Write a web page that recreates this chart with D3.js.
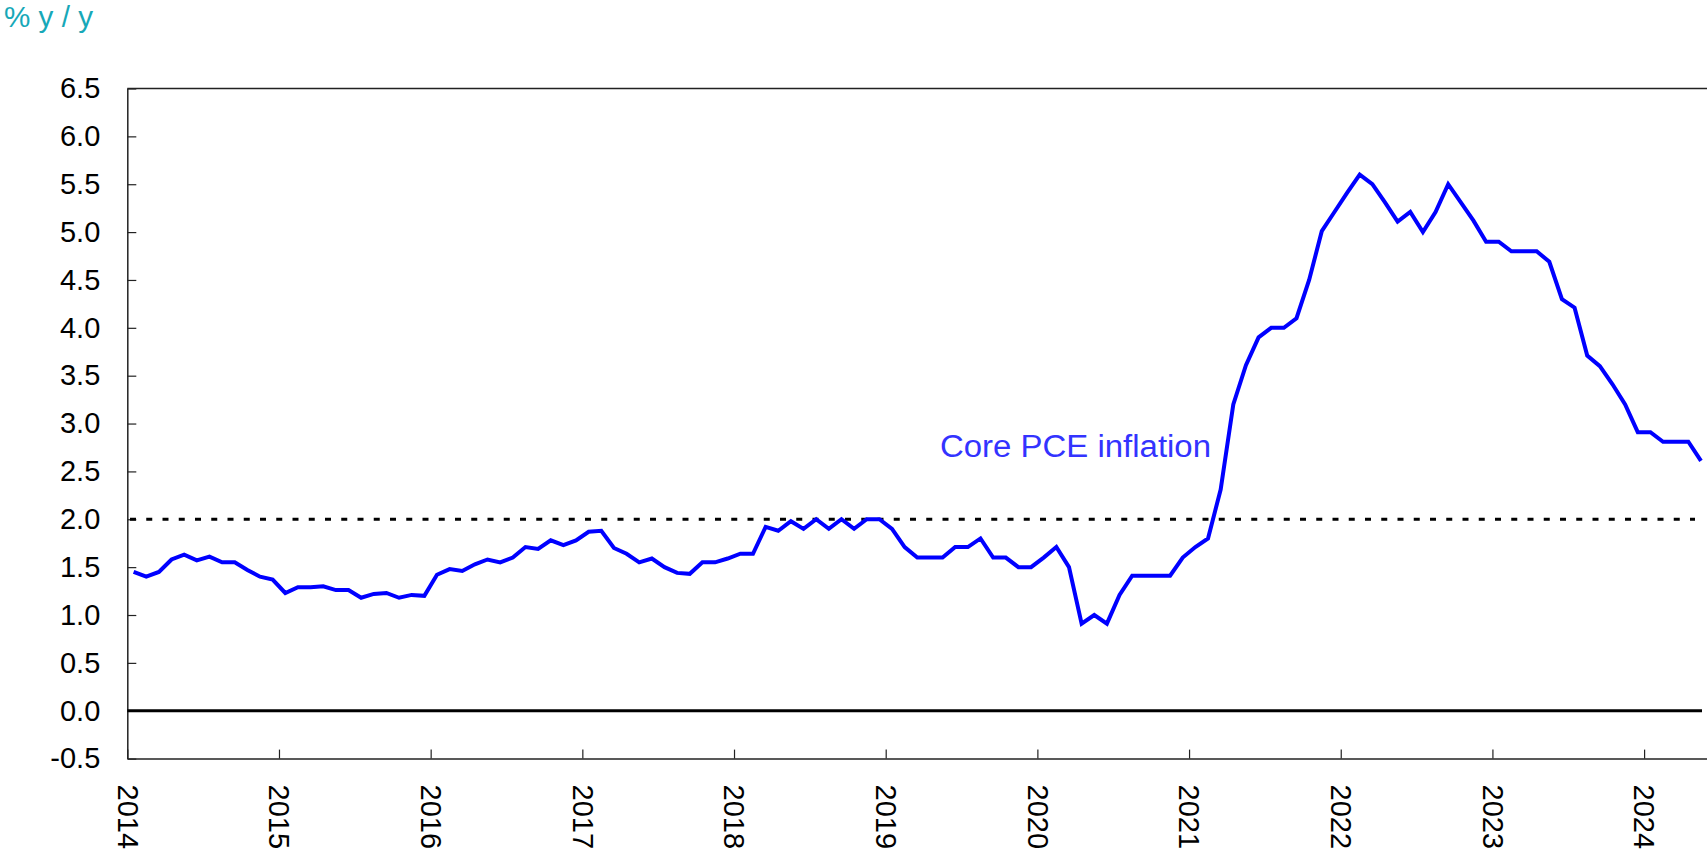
<!DOCTYPE html>
<html>
<head>
<meta charset="utf-8">
<script src="https://cdn.jsdelivr.net/npm/d3@7"></script>
<style>
  html, body { margin: 0; padding: 0; background: #fff; }
  svg { display: block; }
  text { font-family: "Liberation Sans", Arial, Helvetica, sans-serif; }
</style>
</head>
<body>
<div id="chart"></div>
<script>
// Monthly core PCE inflation, % y/y, Jan 2014 – May 2024
const years = ["2014", "2015", "2016", "2017", "2018", "2019", "2020", "2021", "2022", "2023", "2024"];
const months = years.flatMap(y => d3.range(1, 13).map(m => `${y}-${String(m).padStart(2, "0")}`)).slice(0, 125);

const corePce = [
  1.45, 1.40, 1.45, 1.58, 1.63, 1.57, 1.61, 1.55, 1.55, 1.47, 1.40, 1.37,
  1.23, 1.29, 1.29, 1.30, 1.26, 1.26, 1.18, 1.22, 1.23, 1.18, 1.21, 1.20,
  1.42, 1.48, 1.46, 1.53, 1.58, 1.55, 1.60, 1.71, 1.69, 1.78, 1.73, 1.78,
  1.87, 1.88, 1.70, 1.64, 1.55, 1.59, 1.50, 1.44, 1.43, 1.55, 1.55, 1.59,
  1.64, 1.64, 1.92, 1.88, 1.98, 1.90, 2.00, 1.90, 2.00, 1.90, 2.00, 2.00,
  1.90, 1.71, 1.60, 1.60, 1.60, 1.71, 1.71, 1.80, 1.60, 1.60, 1.50, 1.50,
  1.60, 1.71, 1.50, 0.91, 1.00, 0.91, 1.21, 1.41, 1.41, 1.41, 1.41, 1.60,
  1.71, 1.80, 2.31, 3.20, 3.61, 3.90, 4.00, 4.00, 4.10, 4.50, 5.01, 5.21,
  5.41, 5.60, 5.50, 5.31, 5.11, 5.21, 5.00, 5.21, 5.50, 5.31, 5.12, 4.90,
  4.90, 4.80, 4.80, 4.80, 4.69, 4.30, 4.21, 3.71, 3.60, 3.41, 3.20, 2.91,
  2.91, 2.81, 2.81, 2.81, 2.61
];

const yTicks = [-0.5, 0.0, 0.5, 1.0, 1.5, 2.0, 2.5, 3.0, 3.5, 4.0, 4.5, 5.0, 5.5, 6.0, 6.5];
const targetRate = 2.0;
const unitLabel = "% y / y";
const seriesLabel = "Core PCE inflation";

const W = 1707, H = 852;
const plotLeft = 127.3, plotRight = 1707.3, plotTop = 88.5, plotBottom = 758.6;

const svg = d3.select("#chart").append("svg")
  .attr("width", W).attr("height", H);

// Month index axis: each month occupies one slot; year ticks sit at slot boundaries
const x = d3.scaleLinear().domain([0, months.length]).range([plotLeft, plotRight]);
const y = d3.scaleLinear().domain([-0.5, 6.5]).range([plotBottom, plotTop]);

const font = 29;

// Unit label
svg.append("text")
  .attr("x", 4).attr("y", 27)
  .attr("font-size", 30)
  .attr("fill", "#17a8b8")
  .attr("textLength", 89).attr("lengthAdjust", "spacingAndGlyphs")
  .text(unitLabel);

// Top frame line
svg.append("line")
  .attr("x1", plotLeft).attr("x2", W)
  .attr("y1", y(6.5)).attr("y2", y(6.5))
  .attr("stroke", "#222").attr("stroke-width", 1.5);

// Y axis
const yAxis = svg.append("g")
  .attr("transform", `translate(${plotLeft},0)`)
  .call(d3.axisLeft(y).tickValues(yTicks).tickSize(-9).tickSizeOuter(0).tickPadding(27)
    .tickFormat(d => d.toFixed(1)));
yAxis.select(".domain").attr("stroke", "#222").attr("stroke-width", 1.5);
yAxis.selectAll(".tick line").attr("stroke", "#222").attr("stroke-width", 1.2);
yAxis.selectAll(".tick text").attr("font-size", font).attr("fill", "#000")
  .style("font-family", '"Liberation Sans", Arial, sans-serif');

// X axis with years
const yearIdx = years.map((_, i) => i * 12);
const xAxis = svg.append("g")
  .attr("transform", `translate(0,${plotBottom})`)
  .call(d3.axisBottom(x).tickValues(yearIdx).tickSize(-9).tickSizeOuter(0)
    .tickFormat((d, i) => years[i]));
xAxis.select(".domain").attr("stroke", "#222").attr("stroke-width", 1.5);
xAxis.selectAll(".tick line").attr("stroke", "#222").attr("stroke-width", 1.2);
xAxis.selectAll(".tick text")
  .attr("font-size", font).attr("fill", "#000")
  .style("font-family", '"Liberation Sans", Arial, sans-serif')
  .attr("transform", "rotate(90)")
  .attr("x", 26).attr("y", 0).attr("dy", "0.35em")
  .style("text-anchor", "start");

// Zero line
svg.append("line")
  .attr("x1", plotLeft).attr("x2", 1702)
  .attr("y1", y(0)).attr("y2", y(0))
  .attr("stroke", "#000").attr("stroke-width", 3);

// 2% reference line
svg.append("line")
  .attr("x1", 130).attr("x2", 1695)
  .attr("y1", y(targetRate)).attr("y2", y(targetRate))
  .attr("stroke", "#000").attr("stroke-width", 3)
  .attr("stroke-dasharray", "6,10.25");

// Core PCE series
const line = d3.line()
  .x((d, i) => x(i + 0.5))
  .y(d => y(d));
svg.append("path")
  .datum(corePce)
  .attr("d", line)
  .attr("fill", "none")
  .attr("stroke", "#0000ff")
  .attr("stroke-width", 4);

// Series label
svg.append("text")
  .attr("x", 940).attr("y", 456.5)
  .attr("font-size", 31)
  .attr("fill", "#3333ff")
  .attr("textLength", 271).attr("lengthAdjust", "spacingAndGlyphs")
  .text(seriesLabel);
</script>
</body>
</html>
